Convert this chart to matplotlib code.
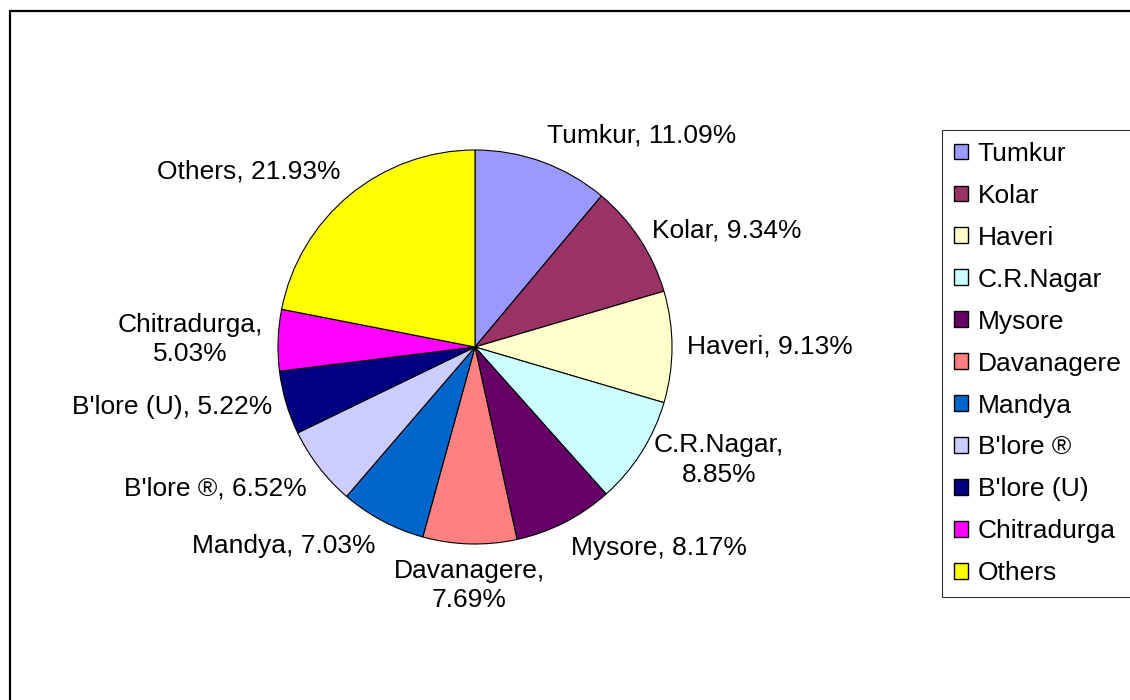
import numpy as np
import matplotlib
matplotlib.use("Agg")
import matplotlib.pyplot as plt
from matplotlib.patches import Rectangle

plt.rcParams['font.family'] = ['Liberation Sans', 'DejaVu Sans']

# district shares (%)
districts = ['Tumkur', 'Kolar', 'Haveri', 'C.R.Nagar', 'Mysore', 'Davanagere',
             'Mandya', "B'lore \u00ae", "B'lore (U)", 'Chitradurga', 'Others']
shares = [11.09, 9.34, 9.13, 8.85, 8.17, 7.69, 7.03, 6.52, 5.22, 5.03, 21.93]
colors = ['#9999FF', '#993366', '#FFFFCC', '#CCFFFF', '#660066', '#FF8080',
          '#0066CC', '#CCCCFF', '#000080', '#FF00FF', '#FFFF00']
# labels that Excel wraps onto two lines
wrapped = ['C.R.Nagar', 'Davanagere', 'Chitradurga']

fig = plt.figure(figsize=(11.3, 7), dpi=100)

# pie axes: centre (475,347) px, radius 197 px
cx, cy, rad = 475, 347, 197
W, H = 1130, 700
ax = fig.add_axes([(cx - rad) / W, (H - cy - rad) / H, 2 * rad / W, 2 * rad / H])
wedges, _ = ax.pie(shares, colors=colors, startangle=90, counterclock=False,
                   wedgeprops=dict(edgecolor='black', linewidth=0.8))
ax.set_xlim(-1, 1)
ax.set_ylim(-1, 1)
ax.set_aspect('auto')
ax.axis('off')

# data labels outside the pie
for w, name, val in zip(wedges, districts, shares):
    mid = np.deg2rad((w.theta1 + w.theta2) / 2)
    c, s = np.cos(mid), np.sin(mid)
    r = 1.075
    ha = 'center' if abs(c) < 0.15 else ('left' if c > 0 else 'right')
    va = 'bottom' if s > 0.6 else ('top' if s < -0.6 else 'center')
    sep = ',\n' if name in wrapped else ', '
    ax.text(r * c, r * s, f'{name}{sep}{val:.2f}%', ha=ha, va=va,
            multialignment='center', linespacing=1.3, fontsize=19, clip_on=False)

# legend on the right, running off the edge
leg = fig.legend(wedges, districts, loc='upper left',
                 bbox_to_anchor=(942 / W, 1 - 130 / H), fontsize=19,
                 frameon=True, fancybox=False, edgecolor='black',
                 handlelength=0.55, handleheight=0.55, handletextpad=0.35,
                 labelspacing=0.68, borderpad=0.45, borderaxespad=0)
leg.get_frame().set_linewidth(0.8)
for h in leg.legend_handles:
    h.set_edgecolor('black')
    h.set_linewidth(1.0)

# outer chart border (cut off on the right and bottom)
fig.patches.append(Rectangle((10 / W, -0.2), 1.2, 1.2 - 11 / H, transform=fig.transFigure,
                             fill=False, edgecolor='black', linewidth=1.6))

fig.savefig('out.png', dpi=100, facecolor='white')
